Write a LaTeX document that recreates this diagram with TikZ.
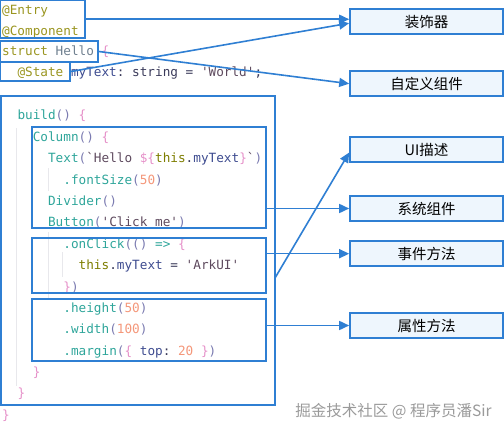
\documentclass[tikz,border=0pt]{standalone}
\usepackage{fontspec}
\usetikzlibrary{arrows.meta}
\newfontfamily\codefont{DejaVu Sans Mono}
\newfontfamily\cjkfont{Noto Sans CJK SC}
\definecolor{boxblue}{HTML}{2F7FD3}
\definecolor{boxfill}{HTML}{EEF6FD}
\definecolor{cOlive}{HTML}{9A9520}
\definecolor{cThis}{HTML}{7D7D00}
\definecolor{cTeal}{HTML}{2EA59A}
\definecolor{cPink}{HTML}{E58FC8}
\definecolor{cParen}{HTML}{7A7AB0}
\definecolor{cDark}{HTML}{3A3A5A}
\definecolor{cVar}{HTML}{3D4B8F}
\definecolor{cStr}{HTML}{5E4A5E}
\definecolor{cNum}{HTML}{F4977A}
\definecolor{cHello}{HTML}{6F7F8F}
\definecolor{guide}{HTML}{E8E8EC}
\definecolor{wmark}{HTML}{9A9A9A}
\newcommand\kOl[1]{\textcolor{cOlive}{#1}}
\newcommand\kThis[1]{\textcolor{cThis}{#1}}
\newcommand\kTe[1]{\textcolor{cTeal}{#1}}
\newcommand\kPk[1]{\textcolor{cPink}{#1}}
\newcommand\kPa[1]{\textcolor{cParen}{#1}}
\newcommand\kDk[1]{\textcolor{cDark}{#1}}
\newcommand\kVa[1]{\textcolor{cVar}{#1}}
\newcommand\kSt[1]{\textcolor{cStr}{#1}}
\newcommand\kNu[1]{\textcolor{cNum}{#1}}
\newcommand\kHe[1]{\textcolor{cHello}{#1}}
\newcommand\sq{\char39\relax}
\newcommand\bq{\char96\relax}
\tikzset{
  codeline/.style={anchor=base west, inner sep=0pt, font=\codefont\fontsize{12.7}{14}\selectfont},
  codebox/.style={draw=boxblue, line width=1.8pt, inner sep=0pt, rectangle},
  labelbox/.style={draw=boxblue, fill=boxfill, line width=1.6pt, minimum width=153pt, minimum height=25pt, inner sep=0pt, font=\cjkfont\fontsize{14.5}{16}\selectfont, text=black},
  conn/.style={draw=boxblue, line width=1.6pt, -{Triangle[length=10pt,width=9pt]}},
  guideline/.style={draw=guide, line width=0.8pt}
}
\begin{document}
\begin{tikzpicture}[x=1pt,y=-1pt]
\useasboundingbox (0,0) rectangle (504,433);
% indent guides
\draw[guideline] (16,128) -- (16,386);
\draw[guideline] (48,168) -- (48,191);
\draw[guideline] (48,232) -- (48,300);
\draw[guideline] (62,252) -- (62,277);
% code lines
\def\ch{7.65}
\node[codeline] (l1) at (2,15) {\kOl{@Entry}};
\node[codeline] (l2) at (2,35.5) {\kOl{@Component}};
\node[codeline] (l3) at (2,56) {\kOl{struct}\ \kHe{Hello}\ \kPk{\{}};
\node[codeline] (l4) at (2+2*\ch,77) {\kOl{@State}\ \kVa{myText}\kDk{:\ string\ =\ }\kSt{\sq World\sq}\kDk{;}};
\node[codeline] (l5) at (2+2*\ch,120) {\kTe{build}\kPa{()}\ \kPk{\{}};
\node[codeline] (l6) at (2+4*\ch,141.5) {\kTe{Column}\kPa{()}\ \kPk{\{}};
\node[codeline] (l7) at (2+6*\ch,163) {\kTe{Text}\kPa{(}\kSt{\bq Hello\ }\kPk{\$\{}\kThis{this}\kDk{.}\kVa{myText}\kPk{\}}\kSt{\bq}\kPa{)}};
\node[codeline] (l8) at (2+8*\ch,184.3) {\kTe{.fontSize}\kPa{(}\kNu{50}\kPa{)}};
\node[codeline] (l9) at (2+6*\ch,205.6) {\kTe{Divider}\kPa{()}};
\node[codeline] (l10) at (2+6*\ch,227) {\kTe{Button}\kPa{(}\kSt{\sq Click\ me\sq}\kPa{)}};
\node[codeline] (l11) at (2+8*\ch,248.3) {\kTe{.onClick}\kPa{(()}\ \kTe{=>}\ \kPk{\{}};
\node[codeline] (l12) at (2+10*\ch,269.6) {\kThis{this}\kDk{.}\kVa{myText}\kDk{\ =\ }\kSt{\sq ArkUI\sq}};
\node[codeline] (l13) at (2+8*\ch,291) {\kPk{\}}\kPa{)}};
\node[codeline] (l14) at (2+8*\ch,312.3) {\kTe{.height}\kPa{(}\kNu{50}\kPa{)}};
\node[codeline] (l15) at (2+8*\ch,333.6) {\kTe{.width}\kPa{(}\kNu{100}\kPa{)}};
\node[codeline] (l16) at (2+8*\ch,355) {\kTe{.margin}\kPa{(}\kPk{\{}\ \kVa{top}\kDk{:}\ \kNu{20}\ \kPk{\}}\kPa{)}};
\node[codeline] (l17) at (2+4*\ch,376.3) {\kPk{\}}};
\node[codeline] (l18) at (2+2*\ch,397.6) {\kPk{\}}};
\node[codeline] (l19) at (2,419) {\kPk{\}}};
% code boxes
\node[codebox, minimum width=84.5pt, minimum height=37.5pt] (entry) at (42.75,19.25) {};
\node[codebox, minimum width=97.5pt, minimum height=21pt] (hello) at (49.25,51.5) {};
\node[codebox, minimum width=69.5pt, minimum height=19pt] (state) at (35.25,71.5) {};
\node[codebox, minimum width=274pt, minimum height=309pt] (build) at (138,250.5) {};
\node[codebox, minimum width=234pt, minimum height=101pt] (column) at (149,177.5) {};
\node[codebox, minimum width=234pt, minimum height=55pt] (click) at (149,265.5) {};
\node[codebox, minimum width=234pt, minimum height=62pt] (hbox) at (149,330) {};
% label boxes
\node[labelbox] (decor) at (426.5,21.7) {装饰器};
\node[labelbox] (custom) at (426.5,83.7) {自定义组件};
\node[labelbox] (ui) at (426.5,149.5) {UI描述};
\node[labelbox] (sys) at (426.5,208.5) {系统组件};
\node[labelbox] (event) at (426.5,253.7) {事件方法};
\node[labelbox] (attr) at (426.5,325.5) {属性方法};
% connectors
\coordinate (uistart) at (275,278);
\draw[conn] (entry.east) -- (entry.east -| decor.west);
\draw[conn] (state.east) -- ([yshift=-1.5pt]decor.west);
\draw[conn] (hello.east) -- (custom.west);
\draw[conn] (uistart) -- ([yshift=-3pt]ui.west);
\draw[conn] (column.east |- sys.west) -- (sys.west);
\draw[conn] (click.east |- event.west) -- (event.west);
\draw[conn] (hbox.east |- attr.west) -- (attr.west);
% watermark
\node[anchor=center, inner sep=0pt, text=wmark, font=\cjkfont\fontsize{15.5}{17}\selectfont] (wm) at (393.5,411.5) {掘金技术社区 @ 程序员潘Sir};
\end{tikzpicture}
\end{document}
